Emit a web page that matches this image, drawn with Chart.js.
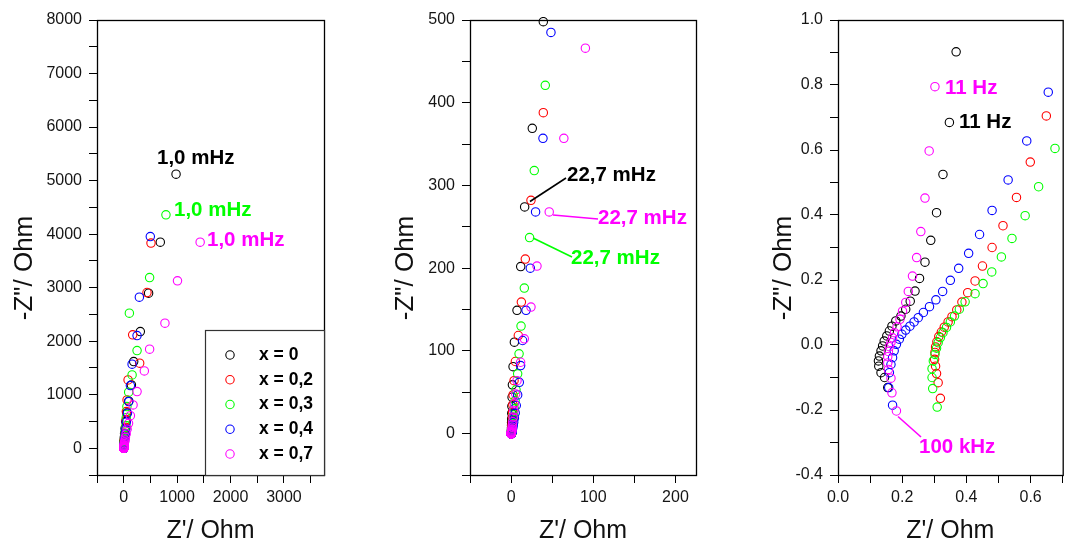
<!DOCTYPE html>
<html>
<head>
<meta charset="utf-8">
<script src="https://cdn.jsdelivr.net/npm/chart.js@4.4.1/dist/chart.umd.min.js"></script>
<style>
html,body{margin:0;padding:0;background:#fff;}
#wrap{position:relative;width:1068px;height:542px;overflow:hidden;background:#fff;}
canvas{position:absolute;left:0;top:0;width:1068px;height:542px;}
</style>
</head>
<body>
<div id="wrap">
<canvas id="c1" width="1068" height="542"></canvas>
<canvas id="c2" width="1068" height="542"></canvas>
<canvas id="c3" width="1068" height="542"></canvas>
</div>
<script>
// ---------- data: Z' and -Z'' (Ohm), from low to high frequency ----------
const seriesLabels = ['x = 0', 'x = 0,2', 'x = 0,3', 'x = 0,4', 'x = 0,7'];
const seriesColors = ['#000000', '#ff0000', '#00ff00', '#0000ff', '#ff00ff'];

const reX0 = [980, 685, 466, 311, 187, 144, 95, 60, 39.2, 25.8, 16.5, 11.7, 7.2, 4.0, 2.4, 1.6, 1.2, 0.95, 0.8, 0.7, 0.6, 0.55, 0.5, 0.47, 0.44, 0.42, 0.40, 0.39, 0.38,
  0.368, 0.347, 0.327, 0.307, 0.289, 0.271, 0.254, 0.240, 0.225, 0.211, 0.196, 0.180, 0.168, 0.160, 0.152, 0.144, 0.139, 0.134, 0.129, 0.126, 0.127, 0.134, 0.145, 0.155];
const imX0 = [5120, 3850, 2897, 2180, 1619, 1183, 880, 660, 498, 369, 274, 202, 149, 110.5, 81, 59, 44, 33, 24.5, 18, 13.5, 10, 7.4, 5.5, 4.1, 3.0, 2.25, 1.65, 1.2,
  0.902, 0.685, 0.525, 0.407, 0.322, 0.255, 0.205, 0.166, 0.135, 0.110, 0.089, 0.074, 0.058, 0.043, 0.028, 0.012, -0.003, -0.018, -0.034, -0.049, -0.065, -0.085, -0.100, -0.131];
const reX02 = [511, 436, 168, 299, 82, 63, 50, 45, 39.2, 24.2, 17.3, 12.5, 8.8, 5.2, 3.6, 2.4, 2.1, 1.85, 1.6, 1.4, 1.25, 1.13, 1.05, 0.98, 0.93, 0.88, 0.84, 0.80, 0.745,
  0.649, 0.599, 0.556, 0.514, 0.480, 0.450, 0.427, 0.404, 0.386, 0.370, 0.355, 0.343, 0.331, 0.322, 0.314, 0.308, 0.304, 0.302, 0.301, 0.304, 0.307, 0.312, 0.319];
const imX02 = [3832, 2909, 2118, 1589, 1277, 903, 684, 524, 388, 282, 211, 159, 118.6, 87.2, 64, 46.8, 35, 26, 19.3, 14.3, 10.6, 7.9, 5.8, 4.3, 3.2, 2.4, 1.75, 1.3, 0.93,
  0.705, 0.563, 0.454, 0.367, 0.300, 0.243, 0.197, 0.161, 0.132, 0.108, 0.087, 0.071, 0.055, 0.040, 0.026, 0.010, -0.006, -0.023, -0.044, -0.065, -0.088, -0.116, -0.164];
const reX03 = [791, 485, 106, 250, 157, 93, 60, 48, 41.6, 28.2, 22.5, 16.1, 12.1, 9.7, 8.0, 6.0, 4.9, 4.0, 3.2, 2.6, 2.1, 1.75, 1.5, 1.3, 1.15, 1.05, 0.97, 0.90, 0.84, 0.79, 0.745,
  0.676, 0.625, 0.583, 0.542, 0.509, 0.479, 0.452, 0.427, 0.396, 0.378, 0.363, 0.350, 0.338, 0.327, 0.319, 0.312, 0.307, 0.302, 0.297, 0.293, 0.293, 0.295, 0.309];
const imX03 = [4361, 3189, 2523, 1825, 1370, 1047, 778, 570, 421, 318, 237, 176, 130, 96.5, 72.3, 53, 40, 30, 22.5, 17, 12.7, 9.5, 7.1, 5.3, 4.0, 3.0, 2.3, 1.75, 1.33, 1.02, 0.79,
  0.605, 0.487, 0.398, 0.328, 0.271, 0.225, 0.189, 0.158, 0.133, 0.110, 0.089, 0.071, 0.054, 0.038, 0.023, 0.007, -0.010, -0.029, -0.049, -0.073, -0.100, -0.134, -0.191];
const reX04 = [498, 293, 250, 157, 125, 93, 70, 48.5, 38.8, 29.8, 23.4, 18.2, 14.0, 11.6, 10.0, 8.0, 6.3, 5.0, 4.0, 3.2, 2.6, 2.1, 1.75, 1.45, 1.22, 1.05, 0.93, 0.83, 0.74,
  0.655, 0.588, 0.530, 0.480, 0.441, 0.407, 0.376, 0.350, 0.326, 0.305, 0.285, 0.266, 0.250, 0.237, 0.224, 0.211, 0.199, 0.191, 0.182, 0.175, 0.170, 0.165, 0.160, 0.158, 0.170];
const imX04 = [3955, 2822, 2105, 1570, 1170, 871, 654, 485, 357, 268, 200, 149, 112.6, 82.3, 62, 46.8, 34, 25, 18.5, 13.7, 10.2, 7.6, 5.7, 4.3, 3.25, 2.45, 1.84, 1.38, 1.04,
  0.778, 0.628, 0.508, 0.414, 0.340, 0.282, 0.236, 0.199, 0.165, 0.139, 0.118, 0.100, 0.084, 0.071, 0.058, 0.046, 0.033, 0.018, 0.002, -0.018, -0.039, -0.060, -0.085, -0.131, -0.185];
const reX07 = [1431, 1007, 772, 485, 386, 250, 175, 125, 90.4, 64.2, 46.4, 31.5, 24.2, 16.1, 11.6, 7.2, 5.6, 4.0, 3.3, 2.6, 2.0, 1.6, 1.3, 1.05, 0.9, 0.72, 0.58, 0.48, 0.40, 0.33,
  0.302, 0.284, 0.271, 0.258, 0.245, 0.232, 0.219, 0.211, 0.201, 0.193, 0.184, 0.176, 0.170, 0.165, 0.160, 0.157, 0.155, 0.155, 0.157, 0.165, 0.168, 0.182];
const imX07 = [3850, 3127, 2336, 1850, 1445, 1058, 809, 609, 466, 357, 268, 202.6, 153, 114.6, 86.3, 64, 48, 36, 28, 20, 14.5, 10.5, 7.7, 5.6, 4.3, 3.2, 2.4, 1.85, 1.4, 1.06,
  0.795, 0.597, 0.452, 0.349, 0.269, 0.212, 0.165, 0.131, 0.104, 0.079, 0.056, 0.038, 0.022, 0.008, -0.005, -0.020, -0.036, -0.055, -0.075, -0.102, -0.147, -0.203];

const seriesRe = [reX0, reX02, reX03, reX04, reX07];
const seriesIm = [imX0, imX02, imX03, imX04, imX07];

// tick values (every tick mark) and the values that carry a label
const p1xTicks = [-500, 0, 500, 1000, 1500, 2000, 2500, 3000, 3500];
const p1xLabels = [0, 1000, 2000, 3000];
const p1yTicks = [-500, 0, 500, 1000, 1500, 2000, 2500, 3000, 3500, 4000, 4500, 5000, 5500, 6000, 6500, 7000, 7500, 8000];
const p1yLabels = [0, 1000, 2000, 3000, 4000, 5000, 6000, 7000, 8000];
const p2xTicks = [-50, 0, 50, 100, 150, 200];
const p2xLabels = [0, 100, 200];
const p2yTicks = [-50, 0, 50, 100, 150, 200, 250, 300, 350, 400, 450, 500];
const p2yLabels = [0, 100, 200, 300, 400, 500];
const p3xTicks = [0, 0.1, 0.2, 0.3, 0.4, 0.5, 0.6, 0.7];
const p3xLabels = [0, 0.2, 0.4, 0.6];
const p3yTicks = [-0.4, -0.3, -0.2, -0.1, 0, 0.1, 0.2, 0.3, 0.4, 0.5, 0.6, 0.7, 0.8, 0.9, 1.0];
const p3yLabels = [-0.4, -0.2, 0, 0.2, 0.4, 0.6, 0.8, 1.0];

const xTitle = "Z'/ Ohm";
const yTitle = '-Z"/ Ohm';

// ---------- rendering ----------
const FONT = "'Liberation Sans', Arial, Helvetica, sans-serif";
Chart.defaults.font.family = FONT;
const W = 1068, H = 542, WY = 60, HX = 40;

function axis(pos, min, max, tickVals, labelVals, dec) {
  const lab = v => labelVals.some(l => Math.abs(l - v) < 1e-9) ? (dec ? v.toFixed(dec) : String(v)) : '';
  return {
    type: 'linear', position: pos, min: min, max: max,
    afterFit: s => { if (pos === 'left') s.width = WY; else s.height = HX; },
    afterBuildTicks: s => { s.ticks = tickVals.map(v => ({ value: v })); },
    afterTickToLabelConversion: s => { s.ticks.forEach(t => { t.label = lab(t.value); }); },
    grid: { display: true, drawOnChartArea: false, drawTicks: true, tickLength: 8, color: '#000', lineWidth: 1 },
    border: { display: false },
    title: { display: false },
    ticks: {
      autoSkip: false, maxRotation: 0, minRotation: 0,
      padding: pos === 'left' ? 7 : 5, color: '#151515', font: { size: 16, family: FONT },
      callback: v => lab(v)
    }
  };
}

function makePanel(id, area, sx, sy, deco) {
  const datasets = seriesLabels.map((lab, i) => ({
    label: lab,
    data: seriesRe[i].map((v, j) => ({ x: v, y: seriesIm[i][j] })),
    borderColor: seriesColors[i],
    backgroundColor: 'rgba(0,0,0,0)',
    pointRadius: 4.2, pointBorderWidth: 1.1, pointHoverRadius: 4.2,
    showLine: false,
    order: seriesLabels.length - i,
    clip: 3
  }));
  const decoPlugin = {
    id: 'deco_' + id,
    beforeDatasetsDraw(chart) {
      const c = chart.ctx, ca = chart.chartArea;
      c.save();
      c.strokeStyle = '#000'; c.lineWidth = 1.3;
      c.strokeRect(ca.left + 0.5, ca.top + 0.5, ca.right - ca.left, ca.bottom - ca.top);
      c.restore();
    },
    afterDraw(chart) {
      const c = chart.ctx, ca = chart.chartArea;
      c.save();
      c.fillStyle = '#111';
      c.font = '25px ' + FONT;
      c.textAlign = 'center'; c.textBaseline = 'alphabetic';
      c.fillText(xTitle, (ca.left + ca.right) / 2, 538);
      c.save();
      c.translate(deco.yTitleX, 268);
      c.rotate(-Math.PI / 2);
      c.font = '26px ' + FONT;
      c.fillText(yTitle, 0, 0);
      c.restore();
      c.font = 'bold 20.5px ' + FONT;
      c.textAlign = 'left'; c.textBaseline = 'middle';
      deco.notes.forEach(n => {
        const col = seriesColors[n.c];
        if (n.line) {
          c.strokeStyle = col; c.lineWidth = 1.6;
          c.beginPath(); c.moveTo(n.line[0], n.line[1]); c.lineTo(n.line[2], n.line[3]); c.stroke();
        }
        c.fillStyle = col;
        c.fillText(n.t, n.x, n.y);
      });
      if (deco.legend) {
        const L = deco.legend;
        c.fillStyle = '#fff';
        c.fillRect(L.l, L.t, ca.right - L.l, ca.bottom - L.t);
        c.strokeStyle = '#333'; c.lineWidth = 1.2;
        c.strokeRect(L.l + 0.5, L.t + 0.5, ca.right - L.l, ca.bottom - L.t);
        c.font = 'bold 17.5px ' + FONT;
        c.textAlign = 'left'; c.textBaseline = 'middle';
        seriesLabels.forEach((lab, i) => {
          const y = L.y0 + i * L.dy;
          c.strokeStyle = seriesColors[i]; c.lineWidth = 1.1;
          c.beginPath(); c.arc(L.mx, y, 4.2, 0, Math.PI * 2); c.stroke();
          c.fillStyle = '#000';
          c.fillText(lab, L.tx, y);
        });
      }
      c.restore();
    }
  };
  return new Chart(document.getElementById(id), {
    type: 'scatter',
    data: { datasets },
    options: {
      responsive: false, animation: false, events: [],
      layout: { padding: { left: area.l - WY, right: W - area.r, top: area.t, bottom: H - area.b - HX } },
      plugins: { legend: { display: false }, tooltip: { enabled: false }, title: { display: false } },
      scales: { x: sx, y: sy }
    },
    plugins: [decoPlugin]
  });
}

makePanel('c1', { l: 97, r: 324, t: 20, b: 475 },
  axis('bottom', -500, 3750, p1xTicks, p1xLabels, 0), axis('left', -500, 8000, p1yTicks, p1yLabels, 0), {
  yTitleX: 31.5,
  notes: [
    { t: '1,0 mHz', c: 0, x: 157, y: 158 },
    { t: '1,0 mHz', c: 2, x: 174, y: 210 },
    { t: '1,0 mHz', c: 4, x: 207, y: 240 }
  ],
  legend: { l: 205, t: 330, mx: 230, tx: 259, y0: 355, dy: 24.75 }
});
makePanel('c2', { l: 470, r: 696, t: 20, b: 475 },
  axis('bottom', -50, 225, p2xTicks, p2xLabels, 0), axis('left', -50, 500, p2yTicks, p2yLabels, 0), {
  yTitleX: 413,
  notes: [
    { t: '22,7 mHz', c: 0, x: 567, y: 175, line: [530, 201.5, 566, 178] },
    { t: '22,7 mHz', c: 4, x: 598, y: 218, line: [553, 215, 598, 219] },
    { t: '22,7 mHz', c: 2, x: 571, y: 258, line: [533, 238, 572, 257] }
  ]
});
makePanel('c3', { l: 838, r: 1065, t: 20, b: 475 },
  axis('bottom', 0, 0.7, p3xTicks, p3xLabels, 1), axis('left', -0.4, 1.0, p3yTicks, p3yLabels, 1), {
  yTitleX: 791,
  notes: [
    { t: '11 Hz', c: 4, x: 945, y: 88 },
    { t: '11 Hz', c: 0, x: 959, y: 122 },
    { t: '100 kHz', c: 4, x: 919, y: 447, line: [898, 416.5, 921, 437] }
  ]
});
</script>
</body>
</html>
